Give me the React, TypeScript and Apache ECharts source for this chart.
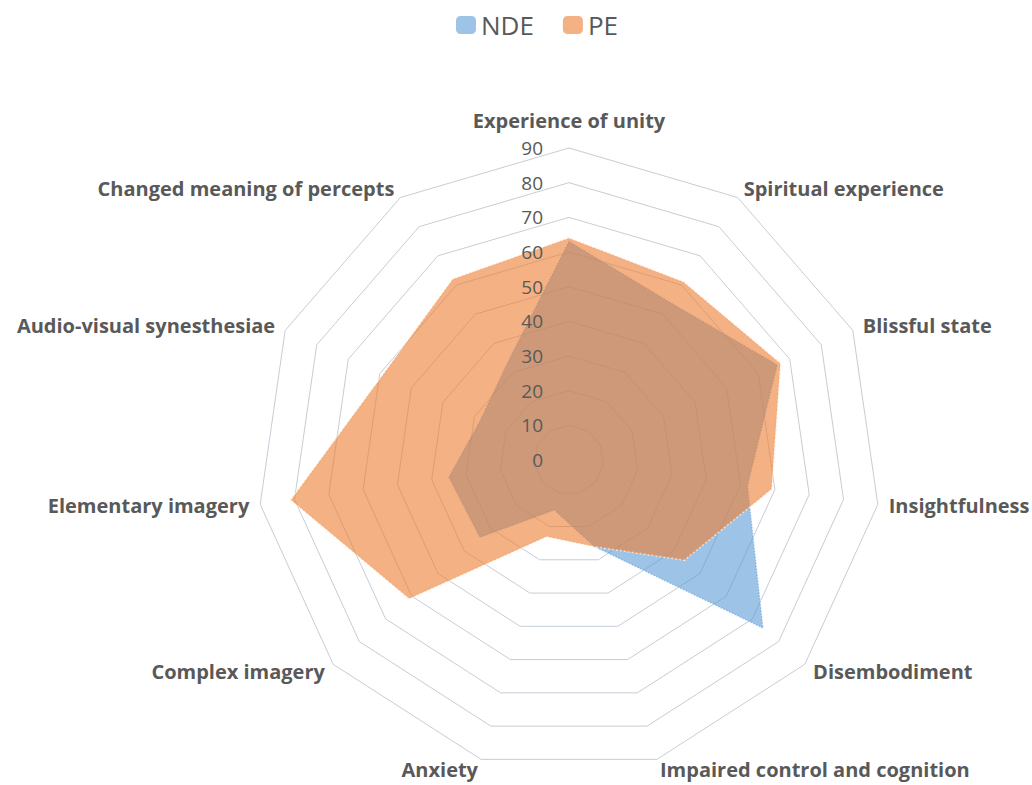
import React, { useEffect, useRef } from 'react';
import * as echarts from 'echarts';

const categories = [
  'Experience of unity',
  'Spiritual experience',
  'Blissful state',
  'Insightfulness',
  'Disembodiment',
  'Impaired control and cognition',
  'Anxiety',
  'Complex imagery',
  'Elementary imagery',
  'Audio-visual synesthesiae',
  'Changed meaning of percepts',
];
const ndeValues = [63, 54, 66, 52, 74, 26, 15, 34, 35, 28, 33];
const peValues = [64, 61, 67, 59, 44, 26, 23, 61, 81, 59, 62];
const seriesNames = ['NDE', 'PE'];
const axisMin = 0;
const axisMax = 90;
const axisSplits = 9;

export default function App() {
  const ref = useRef<HTMLDivElement>(null);
  useEffect(() => {
    const chart = echarts.init(ref.current!, null, { renderer: 'svg' });
    // ECharts lays radar indicators counter-clockwise; reorder so they run clockwise
    const order = [0, ...categories.map((_, i) => i).slice(1).reverse()];
    const textColor = '#595959';
    const geometry = {
      center: [569, 460],
      radius: 312,
      startAngle: 90,
      splitNumber: axisSplits,
      shape: 'polygon',
    };
    chart.setOption({
      animation: false,
      legend: {
        left: 451,
        top: 7,
        itemWidth: 20,
        itemHeight: 18,
        itemGap: 29,
        icon: 'roundRect',
        textStyle: { fontSize: 26, color: textColor, fontFamily: 'Open Sans' },
        itemStyle: { borderWidth: 0 },
        data: [
          { name: seriesNames[0], itemStyle: { color: '#9DC3E6', borderWidth: 0 } },
          { name: seriesNames[1], itemStyle: { color: '#F4B183', borderWidth: 0 } },
        ],
      },
      radar: [
        {
          ...geometry,
          z: 1,
          indicator: order.map((i, k) => ({
            name: categories[i],
            min: axisMin,
            max: axisMax,
            ...(k === 0 ? { nameGap: 18 } : {}),
          })),
          nameGap: 11,
          axisName: {
            color: textColor,
            fontFamily: 'Open Sans',
            fontWeight: 'bold',
            fontSize: 20,
          },
          axisLine: { show: false },
          axisTick: { show: false },
          axisLabel: { show: false },
          splitLine: { lineStyle: { color: '#C6CDD6', width: 1 } },
          splitArea: { show: false },
        },
        {
          ...geometry,
          z: 10,
          indicator: order.map((i, k) => ({
            name: categories[i],
            min: axisMin,
            max: axisMax,
            ...(k === 0 ? { axisLabel: { show: true } } : {}),
          })),
          axisName: { show: false },
          axisLine: { show: false },
          axisTick: { show: false },
          axisLabel: {
            show: false,
            color: textColor,
            fontFamily: 'Open Sans',
            fontSize: 19,
            margin: 26,
          },
          splitLine: { show: false },
          splitArea: { show: false },
        },
      ],
      series: [
        {
          type: 'radar',
          radarIndex: 0,
          z: 2,
          symbol: 'none',
          data: [
            {
              name: seriesNames[0],
              value: order.map((i) => ndeValues[i]),
              itemStyle: { color: '#9DC3E6' },
              areaStyle: { color: '#5B9BD5', opacity: 0.6 },
              lineStyle: { color: '#AFCDEB', width: 1.5, type: 'dotted' },
            },
            {
              name: seriesNames[1],
              value: order.map((i) => peValues[i]),
              itemStyle: { color: '#F4B183' },
              areaStyle: { color: '#ED7D31', opacity: 0.6 },
              lineStyle: { color: '#FDEBDD', width: 2, type: 'dotted' },
            },
          ],
        },
      ],
    });
    return () => chart.dispose();
  }, []);
  return (
    <div
      ref={ref}
      style={{ position: 'fixed', left: 0, top: 0, width: 1032, height: 785, background: '#fff' }}
    />
  );
}
